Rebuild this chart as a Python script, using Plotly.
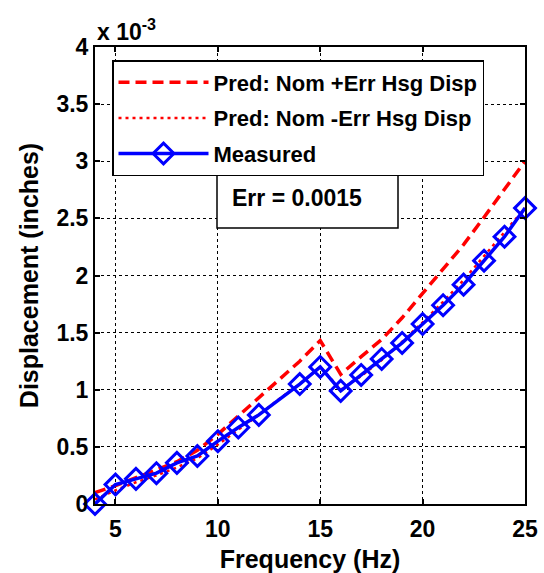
import plotly.graph_objects as go

# Data (displacement in units of 1e-3 inches)
freq_meas = [4, 5, 6, 7, 8, 9, 10, 11, 12, 14, 15, 16, 17, 18, 19, 20, 21, 22, 23, 24, 25]
measured = [0.0, 0.17, 0.22, 0.27, 0.36, 0.42, 0.55, 0.67, 0.78, 1.05, 1.20, 0.99, 1.13, 1.27,
            1.41, 1.575, 1.74, 1.92, 2.13, 2.34, 2.59]

freq_pred = [4, 5, 6, 7, 8, 9, 10, 11, 12, 13, 14, 15, 16, 17, 18, 19, 20, 21, 22, 23, 24, 25]
pred_plus = [0.10, 0.16, 0.23, 0.30, 0.37, 0.47, 0.61, 0.77, 0.93, 1.09, 1.25, 1.43, 1.135, 1.29,
             1.44, 1.63, 1.84, 2.05, 2.27, 2.51, 2.75, 3.00]
pred_minus = [0.04, 0.12, 0.19, 0.25, 0.32, 0.40, 0.52, 0.65, 0.78, 0.92, 1.05, 1.20, 1.00, 1.12,
              1.26, 1.42, 1.59, 1.77, 1.96, 2.17, 2.38, 2.59]

x_ticks = [5, 10, 15, 20, 25]
y_ticks = [0, 0.5, 1, 1.5, 2, 2.5, 3, 3.5, 4]
y_tick_labels = ["0", "0.5", "1", "1.5", "2", "2.5", "3", "3.5", "4"]

FONT = "Liberation Sans, Arial, sans-serif"

# plot area in pixels (for placing the text boxes)
L, R, T, B = 95, 525, 47, 504
W, H = R - L, B - T

def px(xp):
    return (xp - L) / W

def py(yp):
    return (B - yp) / H

fig = go.Figure()
fig.add_trace(go.Scatter(x=freq_pred, y=pred_plus, mode="lines",
                         name="<b>Pred: Nom +Err Hsg Disp</b>", legendgroup="a",
                         line=dict(color="#ff0000", width=3.5, dash="11px,6px"),
                         cliponaxis=False))
fig.add_trace(go.Scatter(x=freq_pred, y=pred_minus, mode="lines",
                         name="<b>Pred: Nom -Err Hsg Disp</b>", legendgroup="b",
                         line=dict(color="#ff0000", width=2.5, dash="3px,4px"),
                         cliponaxis=False))
fig.add_trace(go.Scatter(x=freq_meas, y=measured, mode="lines+markers",
                         name="<b>Measured</b>", legendgroup="c",
                         line=dict(color="#0000ff", width=3.5),
                         marker=dict(symbol="diamond-open", size=16, color="#0000ff",
                                     line=dict(width=3, color="#0000ff")),
                         cliponaxis=False))

axis_common = dict(showline=True, linecolor="black", linewidth=2, mirror="ticks",
                   ticks="inside", ticklen=5, tickcolor="black", tickwidth=1.5,
                   showgrid=True, gridcolor="black", griddash="dot", gridwidth=1,
                   zeroline=False, automargin=False,
                   tickfont=dict(family=FONT, size=23, color="black"))

fig.update_xaxes(range=[4, 25], tickvals=x_ticks, ticktext=[f"<b>{v}</b>" for v in x_ticks],
                 ticklabelstandoff=3,
                 title=dict(text="<b>Frequency (Hz)</b>", standoff=10,
                            font=dict(family=FONT, size=25, color="black")),
                 **axis_common)
fig.update_yaxes(range=[0, 4], tickvals=y_ticks, ticktext=[f"<b>{t}</b>" for t in y_tick_labels],
                 title=dict(text="<b>Displacement (inches)</b>", standoff=11,
                            font=dict(family=FONT, size=25, color="black")),
                 **axis_common)

fig.add_annotation(text="<b>x 10<sup>-3</sup></b>", xref="paper", yref="paper",
                   x=0.0, y=1.0, xanchor="left", yanchor="bottom", showarrow=False,
                   font=dict(family=FONT, size=23, color="black"), yshift=0)

# Err box
fig.add_shape(type="rect", xref="paper", yref="paper",
              x0=px(217), x1=px(398), y0=py(228), y1=py(171),
              line=dict(color="black", width=1.5), fillcolor="white", layer="above")
fig.add_annotation(text="<b>Err = 0.0015</b>", xref="paper", yref="paper",
                   x=px(230), y=py(198), xanchor="left", yanchor="middle",
                   showarrow=False,
                   font=dict(family=FONT, size=23, color="black"))

fig.update_layout(
    width=544, height=573,
    margin=dict(l=L, r=544 - R, t=T, b=573 - B),
    plot_bgcolor="white", paper_bgcolor="white",
    showlegend=True,
    legend=dict(x=px(112), y=py(60), xanchor="left", yanchor="top",
                bgcolor="white", bordercolor="black", borderwidth=1.5,
                font=dict(family=FONT, size=22, color="black"),
                itemwidth=90, tracegroupgap=4, traceorder="grouped"),
)

fig.write_html("out.html")
